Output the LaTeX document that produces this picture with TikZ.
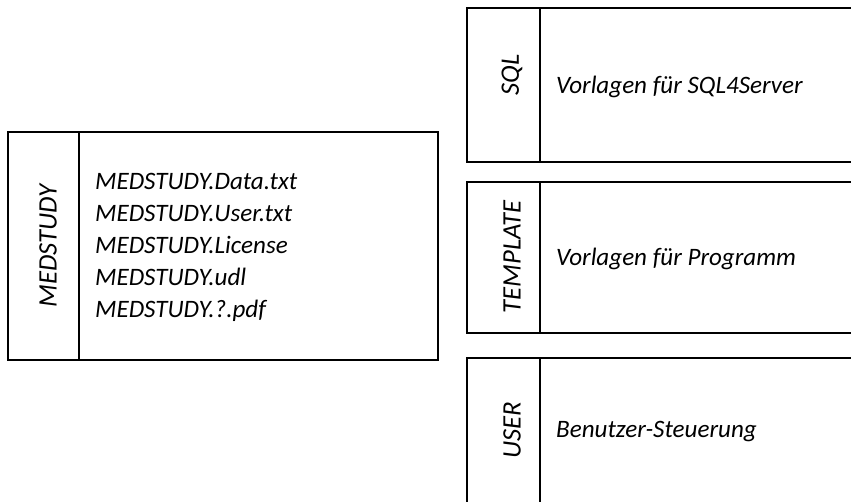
\documentclass[tikz,border=0pt]{standalone}
\usepackage{fontspec}
\setmainfont{Carlito}
\begin{document}
\begin{tikzpicture}[x=0.75pt,y=-0.75pt,line width=1.7pt,
    texto/.style={font=\itshape\fontsize{18.8}{24}\selectfont,inner sep=0pt},
    vertical/.style={texto,font=\itshape\fontsize{20}{24}\selectfont,rotate=90}]
    \useasboundingbox (0,0) rectangle (851,501);
    \clip (0,0) rectangle (851,501);
    % Caja MEDSTUDY
    \draw (8,132) rectangle (438,360);
    \draw (79,132) -- (79,360);
    \node[vertical] (medstudy) at (48,246) {MEDSTUDY};
    \node[texto,anchor=west,align=left] (medlista) at (94,247)
        {MEDSTUDY.Data.txt\\MEDSTUDY.User.txt\\MEDSTUDY.License\\MEDSTUDY.udl\\MEDSTUDY.?.pdf};
    % Caja SQL
    \draw (467,8) rectangle (870,162);
    \draw (540,8) -- (540,162);
    \node[vertical] (sql) at (512,75) {SQL};
    \node[texto,anchor=west] (sqltexto) at (555,87) {Vorlagen für SQL4Server};
    % Caja TEMPLATE
    \draw (467,182) rectangle (870,333);
    \draw (540,182) -- (540,333);
    \node[vertical] (template) at (512,257) {TEMPLATE};
    \node[texto,anchor=west] (templatetexto) at (555,259) {Vorlagen für Programm};
    % Caja USER
    \draw (467,358) rectangle (870,530);
    \draw (540,358) -- (540,530);
    \node[vertical] (user) at (512,430) {USER};
    \node[texto,anchor=west] (usertexto) at (555,432) {Benutzer-Steuerung};
\end{tikzpicture}
\end{document}
